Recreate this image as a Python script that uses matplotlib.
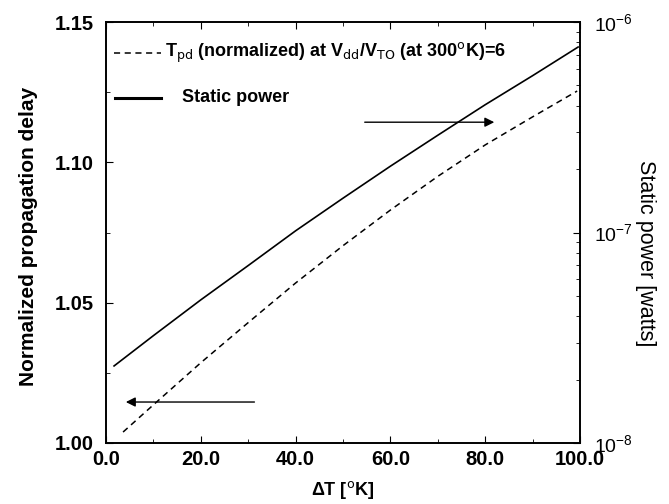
import matplotlib
matplotlib.use("Agg")
import matplotlib.pyplot as plt
import numpy as np
from matplotlib.ticker import MultipleLocator, LogLocator, NullFormatter

plt.rcParams['font.family'] = ['Liberation Sans', 'DejaVu Sans']
plt.rcParams['mathtext.default'] = 'regular'

# Data
dT_delay = [3.6, 10.0, 20.0, 30.0, 40.0, 50.0, 60.0, 70.0, 80.0, 90.0, 99.4]
delay = [1.0039, 1.0136, 1.0286, 1.0429, 1.0570, 1.0703, 1.0830, 1.0950, 1.1062, 1.1162, 1.1254]

dT_power = [1.7, 10.0, 20.0, 30.0, 40.0, 50.0, 60.0, 70.0, 80.0, 90.0, 99.6]
log_power = [-7.634, -7.490, -7.320, -7.157, -6.992, -6.837, -6.685, -6.538, -6.393, -6.255, -6.119]
power = [10 ** v for v in log_power]

xticks = [0, 20, 40, 60, 80, 100]
xticklabels = ['0.0', '20.0', '40.0', '60.0', '80.0', '100.0']
yticks = [1.00, 1.05, 1.10, 1.15]
yticklabels = ['1.00', '1.05', '1.10', '1.15']

fig = plt.figure(figsize=(6.69, 5.04), dpi=100)
ax = fig.add_axes([106 / 669, 61 / 504, 474 / 669, 421 / 504])
ax2 = ax.twinx()

ax.plot(dT_delay, delay, color='black', linestyle=(0, (4, 3)), linewidth=1.1)
ax2.plot(dT_power, power, color='black', linestyle='-', linewidth=1.2)

ax.set_xlim(0, 100)
ax.set_ylim(1.00, 1.15)
ax2.set_yscale('log')
ax2.set_ylim(1e-8, 1e-6)

ax.set_xticks(xticks)
ax.set_xticklabels(xticklabels, fontsize=14.5, fontweight='bold')
ax.set_yticks(yticks)
ax.set_yticklabels(yticklabels, fontsize=14.5, fontweight='bold')
ax.xaxis.set_minor_locator(MultipleLocator(10))
ax.yaxis.set_minor_locator(MultipleLocator(0.025))
ax.tick_params(axis='both', which='both', direction='in', top=True)
ax.tick_params(axis='y', which='major', length=5, pad=9)
ax.tick_params(axis='x', which='major', length=5, pad=5)
ax.tick_params(axis='both', which='minor', length=3)

ax2.yaxis.set_major_locator(LogLocator(base=10, numticks=5))
ax2.yaxis.set_minor_locator(LogLocator(base=10, subs=np.arange(2, 10), numticks=20))
ax2.yaxis.set_minor_formatter(NullFormatter())
ax2.tick_params(axis='y', which='both', direction='in', labelsize=14)
ax2.tick_params(axis='y', which='major', length=5, pad=10)
ax2.tick_params(axis='y', which='minor', length=3)

for a in (ax, ax2):
    for s in a.spines.values():
        s.set_linewidth(1.2)

ax.set_xlabel(r'$\Delta$T [$^{\rm o}$K]', fontsize=13, fontweight='bold', labelpad=7)
ax.set_ylabel('Normalized propagation delay', fontsize=15, fontweight='bold')
ax.yaxis.set_label_coords(-0.143, 0.49)
ax2.set_ylabel('Static power [watts]', fontsize=15.5, rotation=270)
ax2.yaxis.set_label_coords(1.16, 0.45)

# Legend drawn manually
ax.plot([1.7, 11.5], [1.1391, 1.1391], color='black', linestyle=(0, (4, 3)), linewidth=1.1)
ax.text(12.5, 1.1391, r'T$_{\rm pd}$ (normalized) at V$_{\rm dd}$/V$_{\rm TO}$ (at 300$^{\rm o}$K)=6',
        fontsize=13, fontweight='bold', va='center', ha='left')
ax.plot([1.9, 11.5], [1.1230, 1.1230], color='black', linestyle='-', linewidth=2.2)
ax.text(16.0, 1.1230, 'Static power', fontsize=13, fontweight='bold', va='center', ha='left')

# Arrows
ax.annotate('', xy=(3.6, 1.0146), xytext=(31.9, 1.0146),
            arrowprops=dict(arrowstyle='-|>', color='black', lw=1.0, mutation_scale=14))
ax.annotate('', xy=(82.5, 1.1143), xytext=(54.0, 1.1143),
            arrowprops=dict(arrowstyle='-|>', color='black', lw=1.0, mutation_scale=14))

fig.savefig('out.png', dpi=100)
